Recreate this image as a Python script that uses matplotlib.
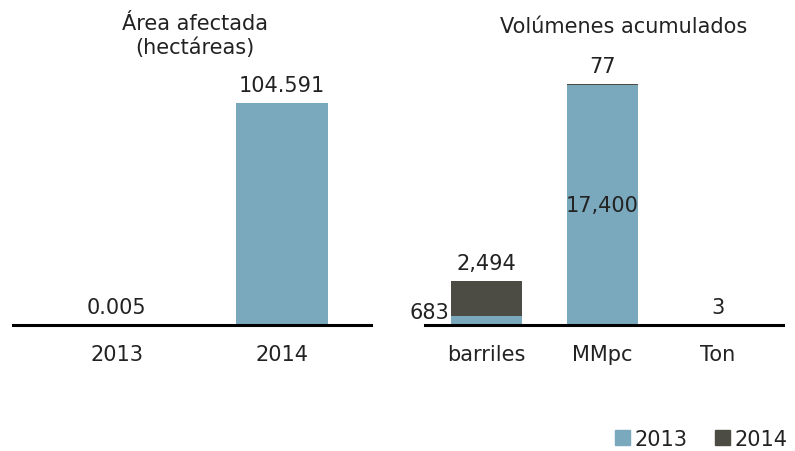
import numpy as np
import matplotlib.pyplot as plt
from matplotlib.patches import Patch

plt.rcParams['font.family'] = ['DejaVu Sans']

BLUE = '#7aa8bd'
DARK = '#4c4c44'
TXT = '#222222'

# Área afectada (hectáreas)
area_years = ['2013', '2014']
area_values = [0.005, 104.591]
area_labels = ['0.005', '104.591']

# Volúmenes acumulados
vol_cats = ['barriles', 'MMpc', 'Ton']
vol_2013 = [683, 17400, 0]
vol_2014 = [2494, 77, 3]
lab_2013 = ['683', '17,400', '']
lab_2014 = ['2,494', '77', '3']

W, H = 795, 452
fig = plt.figure(figsize=(W / 100, H / 100), dpi=100)

def px_axes(x0, x1, ybot, ytop):
    return fig.add_axes([x0 / W, 1 - ybot / H, (x1 - x0) / W, (ybot - ytop) / H])

fs = 15

ax1 = px_axes(13, 371, 326, 20)
ax2 = px_axes(425, 783, 326, 20)

for ax in (ax1, ax2):
    for s in ax.spines.values():
        s.set_visible(False)
    ax.set_yticks([])
    ax.tick_params(axis='x', length=0, pad=14, labelsize=fs, labelcolor=TXT)
    ax.axhline(0, color='black', lw=2.2, zorder=3, clip_on=False)

# left panel
x1 = np.arange(len(area_years))
ax1.bar(x1, area_values, width=0.56, color=BLUE)
ax1.set_xlim(-0.63, 1.54)
ax1.set_ylim(0, 144.2)
ax1.set_xticks(x1, area_years)
for xi, v, t in zip(x1, area_values, area_labels):
    ax1.annotate(t, (xi, v), xytext=(0, 6), textcoords='offset points',
                 ha='center', va='bottom', fontsize=fs, color=TXT)

# right panel, stacked
x2 = np.arange(len(vol_cats))
ax2.bar(x2, vol_2013, width=0.61, color=BLUE)
ax2.bar(x2, vol_2014, width=0.61, bottom=vol_2013, color=DARK)
ax2.set_xlim(-0.53, 2.56)
ax2.set_ylim(0, 22190)
ax2.set_xticks(x2, vol_cats)

# 2013 labels: first one sits left of the bar, the others inside
ax2.annotate(lab_2013[0], (x2[0] - 0.305, vol_2013[0] / 2), xytext=(-1, 6),
             textcoords='offset points', ha='right', va='center', fontsize=fs, color=TXT)
ax2.text(x2[1], vol_2013[1] / 2, lab_2013[1], ha='center', va='center',
         fontsize=fs, color=TXT)
# 2014 labels above the stack
for xi, a, b, t in zip(x2, vol_2013, vol_2014, lab_2014):
    ax2.annotate(t, (xi, a + b), xytext=(0, 6), textcoords='offset points',
                 ha='center', va='bottom', fontsize=fs, color=TXT)

fig.text(195 / W, 1 - 36 / H, 'Área afectada\n(hectáreas)', ha='center', va='center',
         fontsize=fs, color=TXT, linespacing=1.2)
fig.text(624 / W, 1 - 27 / H, 'Volúmenes acumulados', ha='center', va='center',
         fontsize=fs, color=TXT)

handles = [Patch(color=BLUE, label='2013'), Patch(color=DARK, label='2014')]
fig.legend(handles=handles, loc='lower right', bbox_to_anchor=(790 / W, 0),
           ncol=2, frameon=False, fontsize=fs, handlelength=0.72, handleheight=0.72,
           handletextpad=0.24, columnspacing=1.3, labelcolor=TXT, borderpad=0.1,
           borderaxespad=0)

fig.savefig('out.png', dpi=100)
